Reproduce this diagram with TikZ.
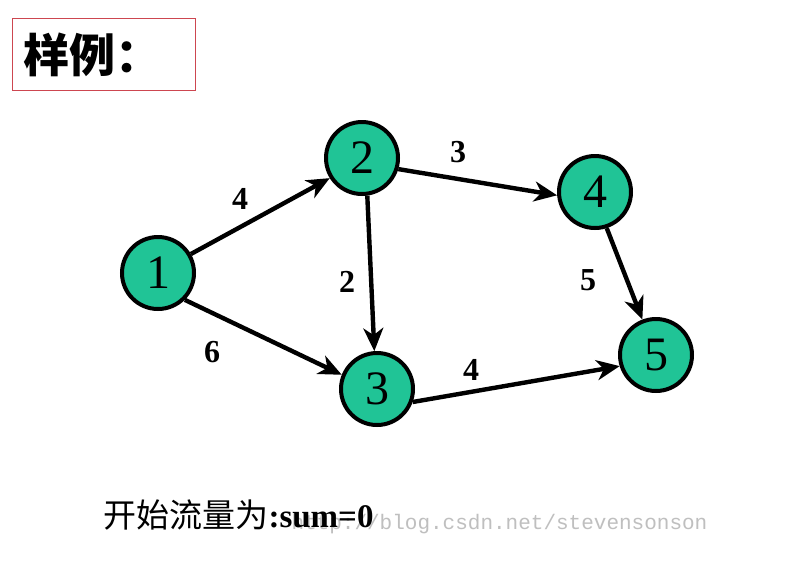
\documentclass[tikz,border=0pt]{standalone}
\usepackage{fontspec}
\setmainfont{Liberation Serif}
\newfontfamily\cjk{Noto Sans CJK SC}
\newfontfamily\wmfont{Liberation Mono}
\usetikzlibrary{arrows.meta}
\definecolor{nodegreen}{RGB}{32,196,150}
\definecolor{framered}{RGB}{205,70,80}
\begin{document}
\begin{tikzpicture}[x=1pt,y=-1pt,
  vertex/.style={circle,draw=black,line width=4pt,fill=nodegreen,minimum size=72pt,inner sep=0pt,font=\fontsize{48}{48}\selectfont},
  flow/.style={line width=4.4pt,-{Stealth[length=23pt,width=20pt,inset=7pt]}},
  weight/.style={font=\fontsize{32}{32}\selectfont\bfseries}]
\useasboundingbox (0,0) rectangle (793,566);
\fill[white] (0,0) rectangle (793,566);
% title frame
\node[draw=framered,line width=1.1pt,minimum width=183pt,minimum height=72pt,anchor=north west] (frame) at (12,18) {};
\node[anchor=west,font=\cjk\bfseries\fontsize{46}{46}\selectfont] (title) at (20,55) {样例：};
% vertices
\node[vertex] (n1) at (158,273) {1};
\node[vertex] (n2) at (362,158) {2};
\node[vertex] (n3) at (377,389) {3};
\node[vertex] (n4) at (595,192) {4};
\node[vertex] (n5) at (656,355) {5};
% edges
\draw[flow] (n1.30) -- (n2.212);
\draw[flow] (n1.-45) -- (n3.158);
\draw[flow] (n2.-82) -- (n3.94);
\draw[flow] (n2.-17) -- (n4.185);
\draw[flow] (n4.-72) -- (n5.111);
\draw[flow] (n3.-20) -- (n5.197);
% capacities
\node[weight] (w12) at (240,199) {4};
\node[weight] (w13) at (212,352) {6};
\node[weight] (w23) at (347,282) {2};
\node[weight] (w24) at (458,152) {3};
\node[weight] (w45) at (588,280) {5};
\node[weight] (w35) at (471,370) {4};
% caption and watermark
\node[anchor=base west,text=black!25,font=\wmfont\fontsize{21}{21}\selectfont] (wm) at (288,529) {http://blog.csdn.net/stevensonson};
\node[anchor=base west,font=\fontsize{33}{33}\selectfont] (caption) at (100,527) {{\cjk 开始流量为}\textbf{:sum=0}};
\end{tikzpicture}
\end{document}
